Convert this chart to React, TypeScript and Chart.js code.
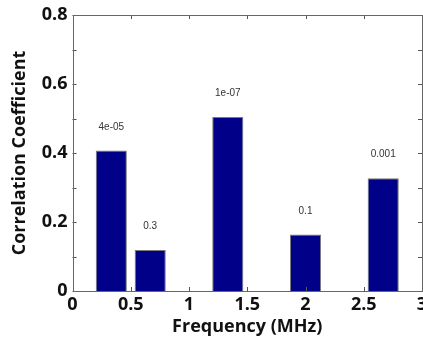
import React, { useEffect, useRef } from "react";
import { Chart, registerables } from "chart.js";

Chart.register(...registerables);

// Data
const frequencies = [0.333, 0.667, 1.333, 2.0, 2.667];
const correlations = [0.407, 0.119, 0.504, 0.164, 0.327];
const pValueLabels = ["4e-05", "0.3", "1e-07", "0.1", "0.001"];

const FONT = "'Open Sans', 'Liberation Sans', sans-serif";

const inwardTicks = {
  id: "inwardTicks",
  afterDraw(chart: any) {
    const { ctx, chartArea, scales } = chart;
    const { left, right, top, bottom } = chartArea;
    ctx.save();
    ctx.strokeStyle = "#555";
    ctx.lineWidth = 1;
    const len = 4;
    scales.x.ticks.forEach((t: any) => {
      const px = Math.round(scales.x.getPixelForValue(t.value)) + 0.5;
      ctx.beginPath();
      ctx.moveTo(px, bottom);
      ctx.lineTo(px, bottom - len);
      ctx.moveTo(px, top);
      ctx.lineTo(px, top + len);
      ctx.stroke();
    });
    scales.y.ticks.forEach((t: any) => {
      const py = Math.round(scales.y.getPixelForValue(t.value)) + 0.5;
      ctx.beginPath();
      ctx.moveTo(left, py);
      ctx.lineTo(left + len, py);
      ctx.moveTo(right, py);
      ctx.lineTo(right - len, py);
      ctx.stroke();
    });
    ctx.strokeStyle = "#666";
    ctx.strokeRect(Math.round(left) + 0.5, Math.round(top) + 0.5, Math.round(right - left) - 1, Math.round(bottom - top));
    ctx.restore();
  },
};

const barLabels = {
  id: "barLabels",
  afterDatasetsDraw(chart: any) {
    const { ctx, scales } = chart;
    const meta = chart.getDatasetMeta(0);
    ctx.save();
    ctx.fillStyle = "#333";
    ctx.font = `10px 'Liberation Sans', Arial, sans-serif`;
    ctx.textAlign = "center";
    ctx.textBaseline = "middle";
    meta.data.forEach((el: any, i: number) => {
      const y = scales.y.getPixelForValue(correlations[i] + 0.068);
      ctx.fillText(pValueLabels[i], el.x, y);
    });
    ctx.restore();
  },
};

export default function App() {
  const ref = useRef<HTMLCanvasElement | null>(null);
  useEffect(() => {
    if (!ref.current) return;
    const chart = new Chart(ref.current, {
      type: "bar",
      data: {
        datasets: [
          {
            data: frequencies.map((f, i) => ({ x: f, y: correlations[i] })),
            backgroundColor: "#000088",
            borderColor: "#7a7a7a",
            borderWidth: 1,
            barPercentage: 0.8,
            categoryPercentage: 1,
          },
        ],
      },
      options: {
        responsive: false,
        animation: false,
        layout: { padding: { left: 9, right: 1, top: 15, bottom: 3 } },
        plugins: { legend: { display: false }, tooltip: { enabled: false } },
        scales: {
          x: {
            type: "linear",
            min: 0,
            max: 3,
            offset: false,
            grid: { display: false, drawTicks: false, tickLength: 0 },
            border: { display: false },
            ticks: {
              stepSize: 0.5,
              padding: 3,
              color: "#111",
              font: { family: FONT, size: 18, weight: "bold" },
              maxRotation: 0,
              autoSkip: false,
              callback: (v: any) => String(Math.round(Number(v) * 10) / 10),
            },
            title: {
              display: true,
              text: "Frequency (MHz)",
              color: "#111",
              padding: 0,
              font: { family: FONT, size: 18, weight: "bold" },
            },
            afterFit: (s: any) => {
              s.height = 47;
              s.paddingLeft = 0;
              s.paddingRight = 0;
            },
          },
          y: {
            min: 0,
            max: 0.8,
            grid: { display: false, drawTicks: false, tickLength: 0 },
            border: { display: false },
            ticks: {
              stepSize: 0.1,
              padding: 5,
              color: "#111",
              font: { family: FONT, size: 18, weight: "bold" },
              autoSkip: false,
              callback: (v: any) => {
                const r = Math.round(Number(v) * 10);
                return r % 2 === 0 ? String(r / 10) : "";
              },
            },
            title: {
              display: true,
              text: "Correlation Coefficient",
              color: "#111",
              padding: 0,
              font: { family: FONT, size: 18, weight: "bold" },
            },
            afterFit: (s: any) => {
              s.width = 63.5;
              s.paddingTop = 0;
              s.paddingBottom = 0;
            },
          },
        },
      },
      plugins: [inwardTicks, barLabels],
    });
    return () => chart.destroy();
  }, []);
  return (
    <div style={{ position: "absolute", left: 0, top: 0, width: 423, height: 341, background: "#fff" }}>
      <canvas ref={ref} width={423} height={341} style={{ display: "block" }} />
    </div>
  );
}
